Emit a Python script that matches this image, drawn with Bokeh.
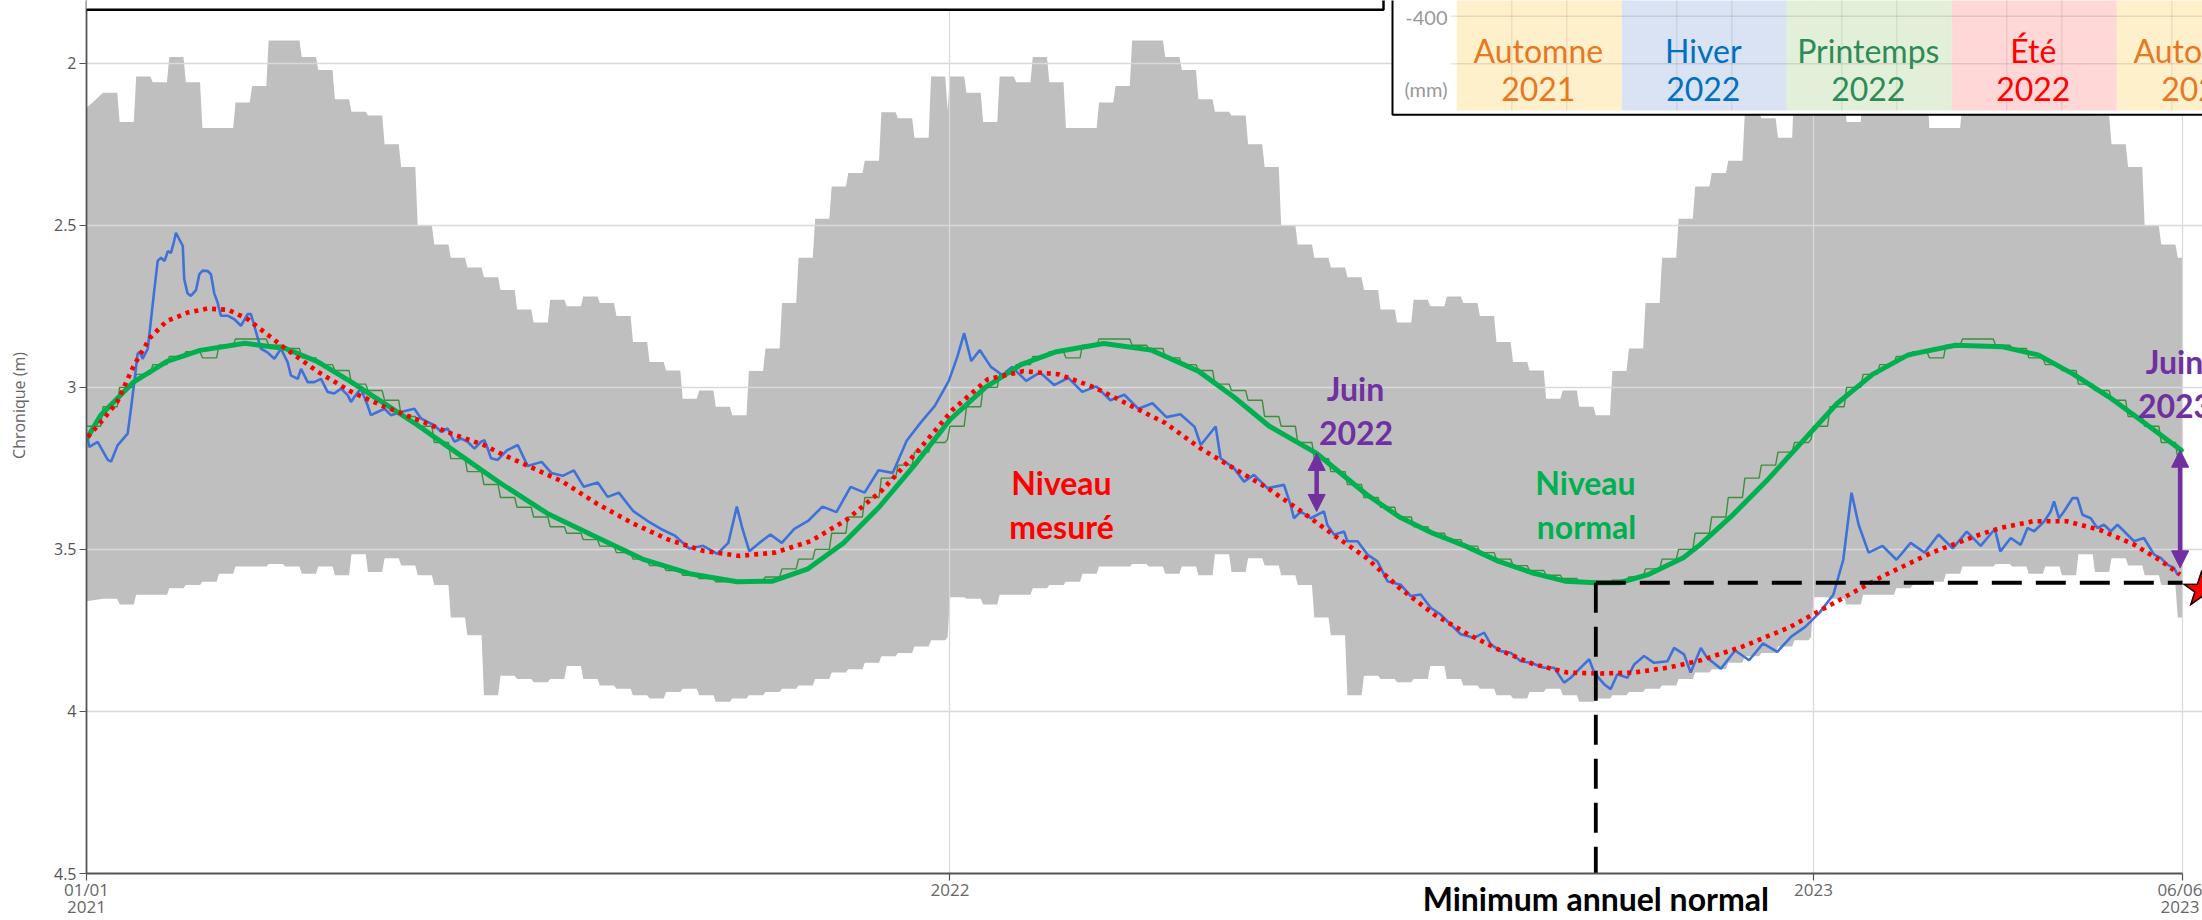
import math
import pandas as pd
from bokeh.plotting import figure
from bokeh.models import (Range1d, FixedTicker, NumeralTickFormatter, BoxAnnotation,
                          Label, Arrow, NormalHead, ColumnDataSource, DatetimeAxis)
from bokeh.embed import file_html
from bokeh.resources import INLINE

ORIGIN = pd.Timestamp("2021-01-01")
END = pd.Timestamp("2023-06-06")

# ---------------- data ----------------
# weekly normals, week 1 = 1-7 Jan ... week 52 = 24-30 Dec, week 53 = 31 Dec
band_top_weekly = [2.041, 2.091, 2.181, 2.041, 2.059, 1.981, 2.059, 2.200, 2.200, 2.121,
                   2.070, 1.930, 1.930, 1.981, 2.021, 2.111, 2.150, 2.161, 2.250, 2.320,
                   2.501, 2.559, 2.600, 2.630, 2.660, 2.700, 2.760, 2.800, 2.730, 2.750,
                   2.720, 2.740, 2.780, 2.860, 2.922, 2.948, 3.035, 3.010, 3.060, 3.086,
                   2.950, 2.880, 2.740, 2.600, 2.480, 2.380, 2.339, 2.301, 2.151, 2.170,
                   2.230, 2.041, 2.144]
band_bottom_weekly = [3.648, 3.652, 3.670, 3.640, 3.640, 3.620, 3.610, 3.600, 3.575, 3.553,
                      3.553, 3.545, 3.553, 3.575, 3.553, 3.580, 3.515, 3.570, 3.527, 3.550,
                      3.580, 3.610, 3.710, 3.765, 3.950, 3.890, 3.900, 3.910, 3.900, 3.860,
                      3.900, 3.920, 3.930, 3.950, 3.960, 3.940, 3.930, 3.950, 3.970, 3.960,
                      3.950, 3.940, 3.930, 3.920, 3.900, 3.880, 3.870, 3.850, 3.830, 3.820,
                      3.800, 3.780, 3.770]
band_start_top = 2.138
band_start_bottom = 3.660
normal_weekly = [3.120, 3.060, 3.000, 2.960, 2.930, 2.905, 2.890, 2.909, 2.870, 2.851,
                 2.851, 2.870, 2.880, 2.909, 2.930, 2.948, 2.990, 3.010, 3.040, 3.090,
                 3.120, 3.170, 3.220, 3.260, 3.300, 3.340, 3.370, 3.400, 3.430, 3.450,
                 3.470, 3.490, 3.510, 3.530, 3.550, 3.565, 3.580, 3.590, 3.600, 3.600,
                 3.595, 3.585, 3.560, 3.530, 3.500, 3.450, 3.400, 3.340, 3.280, 3.240,
                 3.200, 3.170, 3.160]

# smoothed normal level (days since 01/01/2021)
normal_smooth_day = [0, 6, 20, 34, 48, 67, 84, 98, 112, 126, 140, 154, 175, 195, 215, 235, 255,
                     275, 290, 305, 320, 335, 350, 365, 380, 395, 410, 430, 450, 470, 485, 500,
                     520, 541, 555, 569, 583, 597, 611, 625, 638, 648, 660, 675, 682, 695, 710,
                     725, 740, 755, 770, 790, 810, 825, 840, 855, 870, 885.5]
normal_smooth_value = [3.160, 3.086, 2.983, 2.920, 2.886, 2.864, 2.880, 2.922, 2.984, 3.050,
                       3.117, 3.189, 3.296, 3.390, 3.460, 3.530, 3.575, 3.600, 3.598, 3.560,
                       3.480, 3.370, 3.240, 3.100, 3.000, 2.930, 2.890, 2.865, 2.885, 2.950,
                       3.030, 3.120, 3.204, 3.330, 3.400, 3.450, 3.490, 3.537, 3.572, 3.598,
                       3.603, 3.603, 3.578, 3.526, 3.486, 3.400, 3.290, 3.170, 3.050, 2.960,
                       2.900, 2.870, 2.875, 2.900, 2.960, 3.030, 3.110, 3.194]

# trend of the measured level
trend_day = [0.5, 7, 13, 20, 27, 34, 43, 51, 60, 68, 77, 84, 98, 112, 126, 140, 154, 168, 175,
             201, 216, 231, 246, 261, 276, 291, 306, 321, 336, 351, 366, 381, 396, 411, 426,
             441, 456, 471, 485, 499, 513, 527, 541, 555, 569.5, 584, 598, 612, 626, 640, 654,
             668.5, 682, 700, 720, 740, 760, 780, 800, 809, 823, 837, 851, 865.5, 877, 885]
trend_value = [3.153, 3.100, 3.045, 2.933, 2.846, 2.795, 2.769, 2.757, 2.761, 2.789, 2.840,
               2.880, 2.953, 3.014, 3.060, 3.100, 3.142, 3.178, 3.204, 3.290, 3.360, 3.420,
               3.470, 3.505, 3.520, 3.510, 3.475, 3.410, 3.320, 3.200, 3.070, 2.975, 2.950,
               2.960, 3.000, 3.055, 3.110, 3.189, 3.250, 3.310, 3.380, 3.455, 3.526, 3.619,
               3.700, 3.762, 3.813, 3.855, 3.880, 3.883, 3.880, 3.865, 3.843, 3.800, 3.740,
               3.660, 3.580, 3.510, 3.455, 3.434, 3.413, 3.413, 3.440, 3.485, 3.536, 3.578]

# measured level
measured_day = [0.2, 1.2, 4.7, 9.0, 10.4, 13.2, 17.4, 18.8, 20.2, 21.6, 22.5, 23.7, 25.9, 28.7,
                30.1, 31.5, 33.0, 34.4, 35.7, 37.0, 37.8, 39.0, 40.7, 41.3, 42.7, 44.1, 46.3,
                47.7, 49.1, 51.2, 52.6, 54.0, 55.4, 56.8, 59.6, 62.5, 65.3, 68.1, 69.5, 70.9,
                73.7, 76.5, 79.4, 82.2, 85.0, 86.4, 89.3, 90.7, 93.5, 96.3, 99.1, 101.9, 104.7,
                107.6, 110.4, 111.8, 113.2, 116.0, 118.8, 120.2, 123.0, 126.0, 128.7, 132.9,
                138.6, 141.4, 144.2, 147.0, 149.9, 152.7, 155.5, 158.3, 161.1, 164.0, 166.8,
                168.2, 169.6, 171.0, 173.8,
                177.6, 182.3, 186.5, 192.4, 196.5, 201.3, 206.0, 210.2, 216.1, 220.3, 225.0,
                231.0, 236.9, 242.8, 248.8, 254.7, 260.7, 266.6, 271.3, 274.9, 277.3, 280.2,
                284.4, 289.1, 293.9, 299.2, 305.2, 311.1, 317.0, 323.0, 328.9, 334.8, 340.8,
                346.7, 352.6, 358.6, 364.5, 368.1, 371.0, 374.0, 377.6, 382.3, 387.1, 391.2,
                397.2, 403.1, 409.0, 415.0, 420.9, 426.8, 432.8, 438.7, 444.6, 450.6, 456.5,
                462.4, 468.4,
                471.0, 477.3, 479.4, 485.1, 489.3, 493.5, 499.2, 506.2, 509.0, 510.4, 513.3,
                517.5, 523.1, 524.5, 527.4, 531.6, 533.0, 537.3, 541.5, 545.7, 549.9, 555.5,
                559.8, 564.0, 568.2, 572.4, 576.7, 580.9, 586.5, 590.8, 593.6, 597.8, 602.0,
                606.3, 610.5, 616.1, 620.4, 624.6, 627.4, 631.6, 635.2, 637.3, 641.5, 644.3,
                647.1, 651.4, 654.2, 658.4, 662.6, 668.3, 671.1, 675.3, 678.1, 682.4,
                685.0, 690.9, 696.9, 702.8, 708.7, 714.7, 720.6, 726.5, 732.5, 738.4, 742.6,
                746.1, 749.1, 753.3, 759.2, 765.1, 771.1, 777.0, 782.9, 788.9, 794.8, 800.7,
                806.7,
                809.0, 813.4, 817.6, 820.5, 823.3, 827.5, 830.3, 831.7, 833.8, 835.9, 839.5,
                841.6, 843.7, 847.2, 850.0, 852.8, 855.7, 858.5, 861.3, 865.5, 869.7, 874.0,
                876.8, 879.6, 882.4, 883.9]
measured_value = [3.148, 3.184, 3.168, 3.224, 3.229, 3.178, 3.143, 3.066, 2.984, 2.897, 2.890,
                  2.912, 2.881, 2.697, 2.610, 2.600, 2.610, 2.580, 2.585, 2.550, 2.523, 2.540,
                  2.564, 2.666, 2.710, 2.718, 2.700, 2.651, 2.640, 2.641, 2.651, 2.710, 2.738,
                  2.779, 2.779, 2.790, 2.810, 2.774, 2.774, 2.810, 2.881, 2.892, 2.912, 2.881,
                  2.922, 2.963, 2.974, 2.943, 2.984, 2.984, 2.974, 3.014, 3.019, 3.004, 3.024,
                  3.045, 3.030, 3.004, 3.055, 3.086, 3.076, 3.066, 3.086, 3.076, 3.066, 3.096,
                  3.107, 3.117, 3.137, 3.127, 3.168, 3.158, 3.168, 3.189, 3.168, 3.163, 3.189,
                  3.219, 3.224,
                  3.195, 3.178, 3.243, 3.230, 3.264, 3.273, 3.256, 3.307, 3.294, 3.338, 3.325,
                  3.381, 3.411, 3.437, 3.458, 3.497, 3.489, 3.514, 3.480, 3.368, 3.437, 3.506,
                  3.480, 3.454, 3.480, 3.437, 3.411, 3.368, 3.385, 3.307, 3.325, 3.256, 3.264,
                  3.165, 3.109, 3.057, 2.980, 2.906, 2.833, 2.919, 2.885, 2.937, 2.962, 2.937,
                  2.980, 2.954, 2.993, 2.971, 3.014, 2.997, 3.040, 3.023, 3.066, 3.049, 3.092,
                  3.083, 3.122,
                  3.178, 3.121, 3.219, 3.250, 3.291, 3.270, 3.311, 3.301, 3.363, 3.404, 3.383,
                  3.404, 3.383, 3.424, 3.455, 3.445, 3.475, 3.475, 3.516, 3.537, 3.598, 3.609,
                  3.644, 3.639, 3.680, 3.701, 3.732, 3.762, 3.773, 3.757, 3.793, 3.814, 3.819,
                  3.845, 3.850, 3.865, 3.865, 3.911, 3.896, 3.865, 3.839, 3.880, 3.916, 3.931,
                  3.885, 3.896, 3.855, 3.829, 3.850, 3.845, 3.804, 3.824, 3.880, 3.804,
                  3.834, 3.868, 3.812, 3.842, 3.790, 3.816, 3.769, 3.739, 3.696, 3.640, 3.532,
                  3.325, 3.424, 3.510, 3.489, 3.532, 3.480, 3.510, 3.454, 3.497, 3.445, 3.489,
                  3.437,
                  3.506, 3.465, 3.486, 3.434, 3.444, 3.414, 3.383, 3.352, 3.404, 3.383, 3.342,
                  3.342, 3.393, 3.404, 3.434, 3.424, 3.444, 3.424, 3.444, 3.475, 3.465, 3.516,
                  3.526, 3.547, 3.557, 3.578]

# June gaps between normal and measured level
gap_day = [520, 885]
gap_normal = [3.204, 3.194]
gap_measured = [3.383, 3.557]
gap_labels = ["Juin", "Juin"]
gap_years = ["2022", "2023"]

# annual normal minimum
normal_min_day = 638
normal_min_value = 3.603
normal_min_text = "Minimum annuel normal"

x_tick_dates = ["2021-01-01", "2022-01-01", "2023-01-01", "2023-06-06"]
x_tick_labels = ["01/01\n2021", "2022", "2023", "06/06\n2023"]
y_ticks = [2, 2.5, 3, 3.5, 4, 4.5]
y_title = "Chronique (m)"

season_names = ["Automne", "Hiver", "Printemps", "Été", "Automne"]
season_years = ["2021", "2022", "2022", "2022", "2022"]
season_fills = ["#fff0cc", "#dae3f3", "#e2f0d9", "#ffd7d7", "#fff0cc"]
season_text = ["#e87722", "#0070c0", "#2e8b57", "#ff0000", "#e87722"]

# ---------------- helpers ----------------
def to_ts(days):
    return [ORIGIN + pd.Timedelta(days=float(d)) for d in days]


def weekly_steps(*weekly):
    xs, cols = [], [[] for _ in weekly]
    for year in (2021, 2022, 2023):
        jan1 = pd.Timestamp(year=year, month=1, day=1)
        dec31 = pd.Timestamp(year=year, month=12, day=31)
        for k in range(53):
            s = jan1 + pd.Timedelta(days=7 * k)
            if s > END:
                break
            e = min(s + pd.Timedelta(days=6), dec31, END)
            for t in ([s] if e == s else [s, e]):
                xs.append(t)
                for c, w in zip(cols, weekly):
                    c.append(w[k])
    return xs, cols


# ---------------- figure ----------------
W, H = 2202, 920
FRAME_L, FRAME_R_DATA, FRAME_B = 86, 2182, 877     # pixel layout of the reference
PX_PER_M = 325.6
n_days = (END - ORIGIN).days
px_per_day = (FRAME_R_DATA - FRAME_L) / n_days
x_end = END + pd.Timedelta(days=(W - FRAME_R_DATA) / px_per_day)
y_top = 2 - 63 / PX_PER_M            # value at the canvas top (2.0 lies at y=63 px)

p = figure(width=W, height=H, x_axis_type="datetime",
           x_range=Range1d(ORIGIN, x_end), y_range=Range1d(4.5, y_top),
           output_backend="svg", toolbar_location=None,
           min_border_left=FRAME_L, min_border_right=0, min_border_top=0,
           min_border_bottom=H - FRAME_B)
p.outline_line_color = None
p.background_fill_color = "white"
p.border_fill_color = "white"

# band of normals
bx, (btop, bbot) = weekly_steps(band_top_weekly, band_bottom_weekly)
bx = [ORIGIN] + bx[2:]
btop = [band_start_top] + btop[2:]
bbot = [band_start_bottom] + bbot[2:]
p.varea(x=bx, y1=btop, y2=bbot, fill_color="#bfbfbf", level="image")

# weekly normal
nx, (nv,) = weekly_steps(normal_weekly)
p.line(nx, nv, line_color="#3e8e3e", line_width=1.4)

# measured
p.line(to_ts(measured_day), measured_value, line_color="#3f72d9", line_width=2.6)

# smoothed normal
p.line(to_ts(normal_smooth_day), normal_smooth_value, line_color="#00b050",
       line_width=5, line_join="round", line_cap="round")

# trend
p.line(to_ts(trend_day), trend_value, line_color="#ff0000", line_width=4.6,
       line_dash="4 5", line_join="round")

# annual normal minimum
min_ts = to_ts([normal_min_day])[0]
p.line([min_ts, min_ts], [normal_min_value, 4.5], line_color="black", line_width=3.8,
       line_dash="30 14")
p.line([min_ts, END], [normal_min_value, normal_min_value], line_color="black",
       line_width=3.8, line_dash="30 14")

# June arrows
PURPLE = "#7030a0"
arr_src = ColumnDataSource(dict(x=to_ts(gap_day), y0=gap_normal, y1=gap_measured))
p.add_layout(Arrow(start=NormalHead(size=17, fill_color=PURPLE, line_color=PURPLE),
                   end=NormalHead(size=17, fill_color=PURPLE, line_color=PURPLE),
                   x_start="x", y_start="y0", x_end="x", y_end="y1", source=arr_src,
                   line_color=PURPLE, line_width=4.5))

# ---------------- axes ----------------
x_ticks = [pd.Timestamp(d).value / 1e6 for d in x_tick_dates]
xax = p.xaxis[0]
yax = p.yaxis[0]
xax.bounds = (ORIGIN, END)
xax.ticker = FixedTicker(ticks=x_ticks)
p.xgrid.ticker = FixedTicker(ticks=x_ticks)
xax.major_label_overrides = {float(t): lab for t, lab in zip(x_ticks, x_tick_labels)}
yax.ticker = FixedTicker(ticks=y_ticks)
p.ygrid.ticker = FixedTicker(ticks=y_ticks)
yax.formatter = NumeralTickFormatter(format="0.[0]")

for ax in (xax, yax):
    ax.axis_line_color = "#555555"
    ax.axis_line_width = 1.8
    ax.major_tick_line_color = "#555555"
    ax.major_tick_line_width = 1.2
    ax.minor_tick_out = 0
    ax.minor_tick_in = 0
    ax.major_label_text_font = "Open Sans"
# x axis: ticks drawn outwards without reserving room for them
xax.major_tick_out = 0
xax.major_tick_in = -7
xax.major_label_text_font_size = "17px"
xax.major_label_text_line_height = 0.76
xax.major_label_standoff = 4
xax.major_label_text_color = "#666666"
yax.major_tick_out = 7
yax.major_tick_in = 0
yax.major_label_text_font_size = "16px"
yax.major_label_standoff = 3
yax.major_label_text_color = "#555555"

# "Minimum annuel normal", carried by a tick-less axis below (no extra room taken)
min_ms = pd.Timestamp(min_ts).value / 1e6
min_axis = DatetimeAxis(ticker=FixedTicker(ticks=[min_ms]),
                        major_label_overrides={float(min_ms): normal_min_text},
                        axis_line_color=None, major_tick_line_color=None,
                        minor_tick_line_color=None, major_tick_out=0, major_tick_in=0,
                        minor_tick_out=0, minor_tick_in=0, major_label_standoff=-42,
                        major_label_text_font="Lato", major_label_text_font_style="bold",
                        major_label_text_font_size="32px", major_label_text_color="black")
p.add_layout(min_axis, "below")

for g in (p.xgrid[0], p.ygrid[0]):
    g.grid_line_color = "#d9d9d9"
    g.grid_line_width = 1.3

# y title in the left side panel (not clipped to the plot frame)
p.add_layout(Label(x=18, y=405, x_units="canvas", y_units="canvas", text=y_title,
                   text_color="#666666", text_font="Open Sans", text_font_size="16px",
                   text_align="center", text_baseline="middle", angle=math.pi / 2),
             "left")

# ---------------- text annotations ----------------
def label(x, y, text, color, size, style="bold", font="Lato", align="center",
          baseline="middle", angle=0.0):
    p.add_layout(Label(x=x, y=y, x_units="canvas", y_units="canvas", text=text,
                       text_color=color, text_font=font, text_font_size=f"{size}px",
                       text_font_style=style, text_align=align, text_baseline=baseline,
                       angle=angle))


label(1061, 482, "Niveau", "#ff0000", 32)
label(1061, 526, "mesuré", "#ff0000", 32)
label(1585, 482, "Niveau", "#00b050", 32)
label(1586, 526, "normal", "#00b050", 32)
for cx, ty, name, yr in ((1355, 388, gap_labels[0], gap_years[0]),
                         (2174, 361, gap_labels[1], gap_years[1])):
    label(cx, ty, name, PURPLE, 32)
    label(cx + 0.5, ty + 44, yr, PURPLE, 32)

# star at the last measurement
label(2201, 588, "★", "#ff0000", 50, style="normal", font="DejaVu Sans")
label(2201, 588, "☆", "black", 50, style="normal", font="DejaVu Sans")

# ---------------- overlaid panels ----------------
def box(l, r, t, b, fill, line=None, lw=0, alpha=1.0):
    p.add_layout(BoxAnnotation(left=l, right=r, top=t, bottom=b,
                               left_units="canvas", right_units="canvas",
                               top_units="canvas", bottom_units="canvas",
                               fill_color=fill, fill_alpha=alpha,
                               line_color=line, line_width=lw, line_alpha=1.0))


# top-left caption frame
box(6, 1383, -30, 9.3, "white", "black", 2.5)
# seasonal inset
box(1392, 2300, -30, 114.3, "white", "black", 2)
col_left, month_w = 1456.3, 55
for i, f in enumerate(season_fills):
    box(col_left + 3 * month_w * i, col_left + 3 * month_w * (i + 1), -30, 110, f)
for gy in (15.7, 63.3):
    box(col_left - 6, 2300, gy - 0.7, gy + 0.7, "#000000", alpha=0.10)
for j in range(1, 16):
    if j % 3:
        gx = col_left + month_w * j
        box(gx - 0.7, gx + 0.7, -30, 110, "#000000", alpha=0.08)
label(1447, 17, "-400", "#999999", 20, style="normal", align="right")
label(1447, 88, "(mm)", "#999999", 20, style="normal", align="right")
for i, (nm, yr, c) in enumerate(zip(season_names, season_years, season_text)):
    cx = col_left + 3 * month_w * (i + 0.5) - 1
    label(cx, 50, nm, c, 32, style="normal")
    label(cx, 88, yr, c, 32, style="normal")

open("out.html", "w").write(file_html(p, INLINE))
